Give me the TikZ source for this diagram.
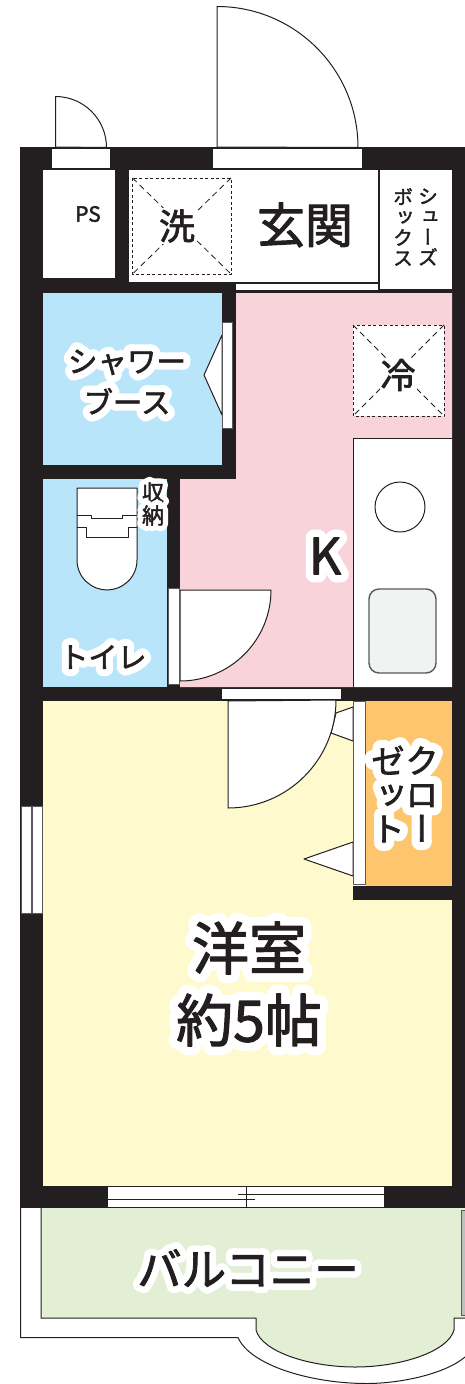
\documentclass[tikz,border=0pt]{standalone}
\usepackage{fontspec}
\setmainfont{Noto Sans CJK JP}[FakeBold=2]
\newfontfamily\vfont{Noto Sans CJK JP}[RawFeature={+vert},FakeBold=2]
\newfontfamily\hfont{Noto Sans CJK JP}[FakeBold=50]
\newfontfamily\hbfont{Noto Sans CJK JP}[FakeBold=32]
\newfontfamily\hvfont{Noto Sans CJK JP}[RawFeature={+vert},FakeBold=50]
\definecolor{wallc}{HTML}{231F20}
\definecolor{lineg}{HTML}{58595B}
\definecolor{bluec}{HTML}{B9E5FB}
\definecolor{pinkc}{HTML}{F9D3DA}
\definecolor{yellowc}{HTML}{FFFACD}
\definecolor{orangec}{HTML}{FEC56F}
\definecolor{greenc}{HTML}{E2EFD5}
\definecolor{sinkc}{HTML}{F1F2F2}
\newcommand{\halo}[1]{\leavevmode\rlap{\color{white}\hfont #1}#1}
\newcommand{\halob}[1]{\leavevmode\rlap{\color{white}\hbfont #1}#1}
\newcommand{\halov}[1]{\leavevmode\rlap{\color{white}\hvfont #1}#1}
\tikzset{
  wall/.style={fill=wallc,draw=none},
  fixture/.style={fill=white,draw=wallc,line width=1pt},
  frame/.style={fill=white,draw=lineg,line width=1pt},
  dashbox/.style={draw=wallc,fill=white,line width=1pt,dash pattern=on 3pt off 2.5pt},
  dashdiag/.style={draw=wallc,line width=.8pt,dash pattern=on 6pt off 4pt},
  lbl/.style={text=wallc,inner sep=0pt,align=center},
  fine/.style={draw=wallc,line width=1pt},
}
\begin{document}
\begin{tikzpicture}[x=1pt,y=-1pt,line join=round]
\useasboundingbox (0,0) rectangle (465,1384);
% balcony
\fill[greenc] (41,1208) -- (41,1318) -- (256,1318) -- (256,1330) .. controls (262,1352) and (310,1367) .. (355,1367) .. controls (400,1367) and (448,1352) .. (454,1330) -- (454,1318) -- (465,1318) -- (465,1208) -- cycle;
\draw[fine] (41,1208) -- (41,1318) -- (256,1318) -- (256,1330) .. controls (262,1352) and (310,1367) .. (355,1367) .. controls (400,1367) and (448,1352) .. (454,1330) -- (454,1318) -- (465,1318);
\draw[fine] (20.5,1208) -- (20.5,1337.5) -- (238,1337.5) .. controls (250,1365) and (310,1383.5) .. (367,1383.5) .. controls (400,1383.5) and (445,1374) .. (465,1357);
\draw[fill=lightgray,draw=lineg,line width=.8pt] (461.5,1210) rectangle (466,1315);
% walls
\fill[wall] (20,147) rectangle (465,1208);
% rooms
\fill[white] (43,170) rectangle (115,278);
\fill[white] (129,170) rectangle (378,282);
\fill[white] (380,170) rectangle (452,289);
\fill[white] (236,284) rectangle (378,290);
\fill[bluec] (43,293) rectangle (222,465);
\fill[bluec] (43,479) rectangle (167,687);
\fill[pinkc] (236,293) -- (452,293) -- (452,687) -- (180,687) -- (180,479) -- (236,479) -- cycle;
\fill[white] (353.5,438.5) rectangle (452,687);
\draw[draw=wallc,line width=1pt] (353.5,687) -- (353.5,438.5) -- (452,438.5);
\fill[yellowc] (43,701) rectangle (452,1186);
\fill[wall] (353,886) rectangle (452,900);
\fill[orangec] (366,701) rectangle (452,886);
% wash and fridge pans
\draw[dashbox] (132.5,178) rectangle (231,274);
\draw[dashdiag] (132.5,178) -- (231,274);
\draw[dashdiag] (231,178) -- (132.5,274);
\draw[dashbox] (353,325) rectangle (444,416);
\draw[dashdiag] (353,325) -- (444,416);
\draw[dashdiag] (444,325) -- (353,416);
% entrance doors
\draw[fixture] (217,147) -- (217,6.5) arc[start angle=-90,end angle=0,radius=141] -- cycle;
\fill[white] (213,149) rectangle (362,168);
\draw[fixture] (55.5,147) -- (55.5,96.5) arc[start angle=-90,end angle=0,radius=51] -- cycle;
\fill[white] (52,149) rectangle (110,168);
% shower door
\draw[fixture] (222,335) -- (204,375) -- (222,415) -- cycle;
\draw[fill=white,draw=lineg,line width=.8pt] (222.5,322) rectangle (232.5,428);
% toilet door
\draw[fixture] (180,590) -- (271,590) arc[start angle=0,end angle=90,radius=91] -- cycle;
\draw[fill=white,draw=lineg,line width=.8pt] (168,588) rectangle (179,684);
% kitchen
\draw[fixture] (400,507) circle[radius=25];
\draw[draw=lineg,fill=sinkc,line width=1.4pt,rounded corners=10pt] (369,589) rectangle (436,673);
% toilet
\draw[fixture] (77,488) -- (137,488) -- (137,560) .. controls (137,578) and (122,590) .. (107,590) .. controls (92,590) and (77,578) .. (77,560) -- cycle;
\draw[fine] (77,515) -- (91,515) -- (91,518) -- (122,518) -- (122,515) -- (137,515);
\draw[fine] (77,527) -- (86,527) -- (86,537) -- (128,537) -- (128,527) -- (137,527);
% closet doors
\draw[fixture] (353,707) -- (336,713) -- (331,733) -- (353,741) -- cycle;
\draw[fixture] (353,842) -- (304,859) -- (353,876) -- cycle;
\draw[fill=white,draw=lineg,line width=.8pt] (353.5,701) rectangle (365.5,884);
% room door
\draw[fixture] (228,701) -- (228,808) arc[start angle=90,end angle=0,radius=108] -- cycle;
\fill[white] (222,689) rectangle (341,699);
% windows
\draw[frame] (21,806) rectangle (31,913);
\draw[frame] (32,806) rectangle (42,913);
\fill[white] (108,1187) rectangle (384,1207);
\draw[fine] (238,1194) -- (384,1194);
\draw[fine] (108,1199) -- (255,1199);
\draw[fine] (246,1187) -- (246,1208);
% labels
\node[lbl,font=\fontsize{21}{21}\selectfont] (ps) at (88,214) {PS};
\node[lbl,fill=white,inner sep=1pt,font=\fontsize{36}{36}\selectfont] (sen) at (177,226) {洗};
\node[lbl,font=\fontsize{48}{48}\selectfont] (genkan) at (305,225) {玄関};
\node[lbl,font=\fontsize{20}{20.4}\vfont] (shoes1) at (428,227) {シ\\ュ\\ー\\ズ};
\node[lbl,font=\fontsize{20}{20.4}\vfont] (shoes2) at (403,227) {ボ\\ッ\\ク\\ス};
\node[lbl,fill=white,inner sep=1pt,font=\fontsize{35}{35}\selectfont] (rei) at (398,375) {冷};
\node[lbl,font=\fontsize{29.5}{41}\selectfont] (shower) at (127,382) {\halo{シャワー}\\\halo{ブース}};
\node[lbl,font=\fontsize{22}{23}\selectfont] (shuno) at (153,504) {\halo{収}\\\halo{納}};
\node[lbl,font=\fontsize{50}{50}\selectfont] (k) at (325,556) {\halob{K}};
\node[lbl,font=\fontsize{29}{29}\selectfont] (toilet) at (103,657) {\halo{トイレ}};
\node[lbl,font=\fontsize{34}{34}\vfont] (closet1) at (422,794) {\halov{ク}\\\halov{ロ}\\\halov{ー}};
\node[lbl,font=\fontsize{34}{34}\vfont] (closet2) at (388,794) {\halov{ゼ}\\\halov{ッ}\\\halov{ト}};
\node[lbl,font=\fontsize{57}{72}\selectfont] (yoshitsu) at (249,984) {\halob{洋室}\\\halob{約5帖}};
\node[lbl,font=\fontsize{44.5}{44.5}\selectfont] (balcony) at (248,1268) {\halob{バルコニー}};
\end{tikzpicture}
\end{document}
